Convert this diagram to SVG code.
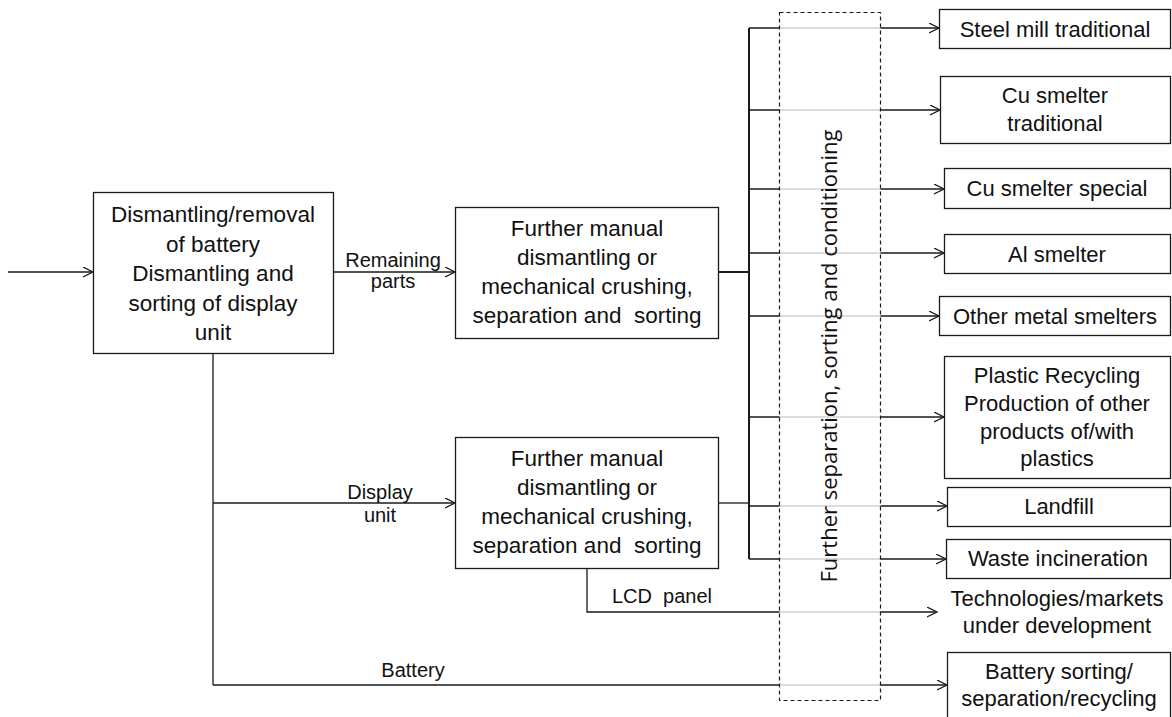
<svg xmlns="http://www.w3.org/2000/svg" width="1172" height="717" viewBox="0 0 1172 717">
  <style>
    .box { fill: #fff; stroke: #1a1a1a; stroke-width: 1.3; }
    .t { font-family: "Liberation Sans", Arial, sans-serif; fill: #111; text-anchor: middle; }
    .tb { font-size: 22.5px; }
    .tr { font-size: 22px; }
    .lbl { font-family: "Liberation Sans", Arial, sans-serif; font-size: 20px; fill: #111; text-anchor: middle; }
    .c { fill: none; stroke: #1a1a1a; stroke-width: 1.3; }
    .arr { marker-end: url(#open); }
    .bus { fill: none; stroke: #1a1a1a; stroke-width: 2; }
    .pre { white-space: pre; }
  </style>
  <defs>
    <marker id="open" markerWidth="12" markerHeight="12" refX="10" refY="5" orient="auto" markerUnits="userSpaceOnUse">
      <path d="M0,0 L10,5 L0,10" fill="none" stroke="#1a1a1a" stroke-width="1.3"/>
    </marker>
  </defs>

  <rect width="1172" height="717" fill="#fff"/>

  <!-- connectors -->
  <g id="connectors">
    <path class="c arr" d="M8,272 H93"/>
    <path class="c arr" d="M333,272 H455"/>
    <path class="c" d="M213,353 V685"/>
    <path class="c arr" d="M213,503 H455"/>
    <path class="bus" d="M718,272 H749"/>
    <path class="bus" d="M749,28 V559"/>
    <path class="c" d="M719,503 H749"/>
    <path class="c arr" d="M749,28 H939"/>
    <path class="c arr" d="M749,110 H940"/>
    <path class="c arr" d="M749,189 H944"/>
    <path class="c arr" d="M749,253 H944"/>
    <path class="c arr" d="M749,316 H939"/>
    <path class="c arr" d="M749,417 H944"/>
    <path class="c arr" d="M749,506 H947"/>
    <path class="c arr" d="M749,559 H946"/>
    <path class="c arr" d="M587,568 V612 H937"/>
    <path class="c arr" d="M213,685 H947"/>
  </g>

  <!-- connector labels -->
  <g id="labels">
    <text class="lbl" x="393" y="267">Remaining</text>
    <text class="lbl" x="393" y="288">parts</text>
    <text class="lbl" x="380" y="499">Display</text>
    <text class="lbl" x="380" y="522">unit</text>
    <text class="lbl" x="413" y="677">Battery</text>
    <text class="lbl pre" x="662" y="603">LCD  panel</text>
  </g>

  <!-- further separation / sorting / conditioning stage -->
  <g id="stage-conditioning">
    <rect x="779.5" y="12.5" width="101" height="688" fill="#fff" fill-opacity="0.8" stroke="#1a1a1a" stroke-width="1.2" stroke-dasharray="4 3"/>
    <text transform="translate(837,356) rotate(-90)" font-family="'Open Sans', 'Liberation Sans', sans-serif" font-size="22" fill="#111" text-anchor="middle">Further separation, sorting and conditioning</text>
  </g>

  <g id="node-dismantling">
    <rect class="box" x="93.5" y="192.5" width="240" height="161"/>
    <text class="t tb" x="213" y="222">Dismantling/removal</text>
    <text class="t tb" x="213" y="251.5">of battery</text>
    <text class="t tb" x="213" y="281">Dismantling and</text>
    <text class="t tb" x="213" y="310.5">sorting of display</text>
    <text class="t tb" x="213" y="340">unit</text>
  </g>

  <g id="node-further-upper">
    <rect class="box" x="455.5" y="207.5" width="263" height="131"/>
    <text class="t tb" x="587" y="236">Further manual</text>
    <text class="t tb" x="587" y="265">dismantling or</text>
    <text class="t tb" x="587" y="294">mechanical crushing,</text>
    <text class="t tb pre" x="587" y="323">separation and  sorting</text>
  </g>

  <g id="node-further-lower">
    <rect class="box" x="455.5" y="437.5" width="263" height="131"/>
    <text class="t tb" x="587" y="466">Further manual</text>
    <text class="t tb" x="587" y="495">dismantling or</text>
    <text class="t tb" x="587" y="524">mechanical crushing,</text>
    <text class="t tb pre" x="587" y="553">separation and  sorting</text>
  </g>

  <g id="node-steel-mill">
    <rect class="box" x="939.5" y="9.5" width="231" height="39"/>
    <text class="t tr" x="1055" y="36.5">Steel mill traditional</text>
  </g>

  <g id="node-cu-traditional">
    <rect class="box" x="940.5" y="76.5" width="230" height="67"/>
    <text class="t tr" x="1055" y="103">Cu smelter</text>
    <text class="t tr" x="1055" y="131">traditional</text>
  </g>

  <g id="node-cu-special">
    <rect class="box" x="944.5" y="168.5" width="226" height="40"/>
    <text class="t tr" x="1057" y="196">Cu smelter special</text>
  </g>

  <g id="node-al">
    <rect class="box" x="944.5" y="234.5" width="226" height="39"/>
    <text class="t tr" x="1057" y="261.5">Al smelter</text>
  </g>

  <g id="node-other-metal">
    <rect class="box" x="939.5" y="296.5" width="231" height="39"/>
    <text class="t tr" x="1055" y="323.5">Other metal smelters</text>
  </g>

  <g id="node-plastic">
    <rect class="box" x="944.5" y="356.5" width="226" height="122"/>
    <text class="t tr" x="1057" y="383">Plastic Recycling</text>
    <text class="t tr" x="1057" y="411">Production of other</text>
    <text class="t tr" x="1057" y="438.5">products of/with</text>
    <text class="t tr" x="1057" y="466">plastics</text>
  </g>

  <g id="node-landfill">
    <rect class="box" x="947.5" y="487.5" width="223" height="39"/>
    <text class="t tr" x="1059" y="514">Landfill</text>
  </g>

  <g id="node-incineration">
    <rect class="box" x="946.5" y="539.5" width="224" height="39"/>
    <text class="t tr" x="1058" y="566">Waste incineration</text>
  </g>

  <g id="node-technologies">
    <text class="t tr" x="1057" y="606">Technologies/markets</text>
    <text class="t tr" x="1057" y="633">under development</text>
  </g>

  <g id="node-battery">
    <rect class="box" x="947.5" y="652.5" width="223" height="80"/>
    <text class="t tr" x="1059" y="679">Battery sorting/</text>
    <text class="t tr" x="1059" y="706">separation/recycling</text>
  </g>
</svg>
